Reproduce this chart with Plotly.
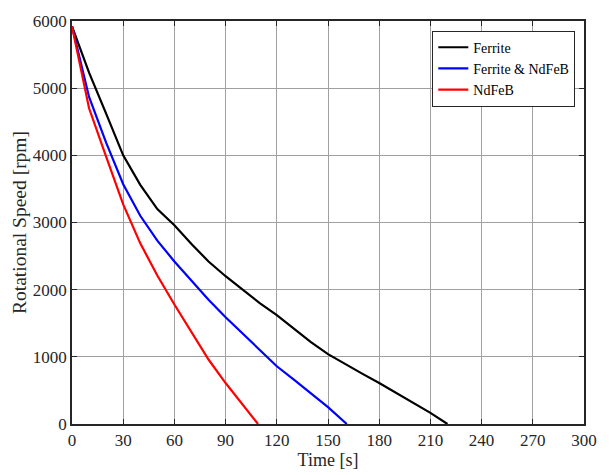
import plotly.graph_objects as go

t_ferrite = [0, 10, 20, 30, 40, 50, 60, 70, 80, 90, 100, 110, 120, 130, 140, 150, 160, 170, 180, 190, 200, 210, 220]
n_ferrite = [5920, 5230, 4620, 4000, 3560, 3200, 2960, 2680, 2420, 2200, 2000, 1800, 1620, 1420, 1220, 1040, 890, 750, 610, 465, 320, 165, 0]

t_mixed = [0, 10, 20, 30, 40, 50, 60, 70, 80, 90, 100, 110, 120, 130, 140, 150, 161]
n_mixed = [5920, 4870, 4190, 3570, 3100, 2730, 2420, 2130, 1850, 1590, 1350, 1110, 860, 660, 460, 250, 0]

t_ndfeb = [0, 10, 20, 30, 40, 50, 60, 70, 80, 90, 100, 109]
n_ndfeb = [5920, 4700, 3980, 3270, 2690, 2210, 1780, 1360, 960, 610, 280, 0]

names = ["Ferrite", "Ferrite & NdFeB", "NdFeB"]
colors = ["#000000", "#0000ff", "#ff0000"]

x_ticks = list(range(0, 301, 30))
y_ticks = list(range(0, 6001, 1000))

fig = go.Figure()
for t, n, name, c in zip([t_ferrite, t_mixed, t_ndfeb], [n_ferrite, n_mixed, n_ndfeb], names, colors):
    fig.add_trace(go.Scatter(x=t, y=n, mode="lines", name=name,
                             line=dict(color=c, width=2.2)))

font_family = "Liberation Serif, Times New Roman, serif"
axis_common = dict(
    showline=True, linecolor="#262626", linewidth=1.5, mirror="ticks",
    ticks="inside", ticklen=5, tickcolor="#262626", tickwidth=1,
    showgrid=True, gridcolor="#a0a0a0", gridwidth=1, zeroline=False,
    tickfont=dict(family=font_family, size=17, color="#262626"),
)

fig.update_xaxes(range=[0, 300], tickvals=x_ticks, ticktext=[str(v) for v in x_ticks],
                 title=dict(text="Time [s]", font=dict(family=font_family, size=18, color="#262626"), standoff=0),
                 **axis_common)
fig.update_yaxes(range=[0, 6000], tickvals=y_ticks, ticktext=[str(v) for v in y_ticks],
                 title=dict(text="Rotational Speed [rpm]", font=dict(family=font_family, size=19.5, color="#262626"), standoff=1),
                 **axis_common)

fig.update_layout(
    width=609, height=475,
    margin=dict(l=72, r=17, t=16, b=46),
    plot_bgcolor="white", paper_bgcolor="white",
    font=dict(family=font_family, color="#262626"),
    legend=dict(x=0.983, y=0.976, xanchor="right", yanchor="top",
                bgcolor="white", bordercolor="#262626", borderwidth=1,
                font=dict(family=font_family, size=14, color="#000000"),
                tracegroupgap=0, itemwidth=30),
    showlegend=True,
)

fig.write_html("out.html")
